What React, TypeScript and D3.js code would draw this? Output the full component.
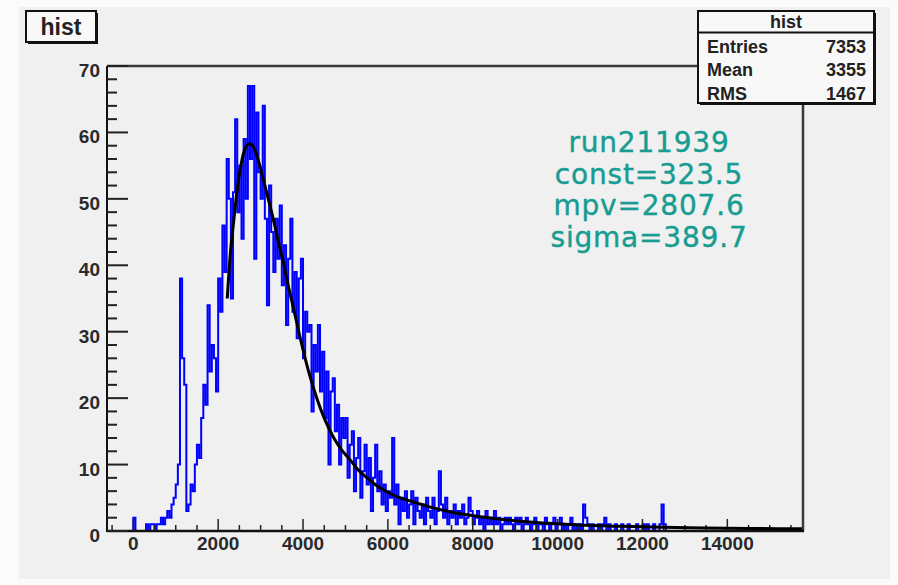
import React from 'react';
import * as d3 from 'd3';

const BIN_WIDTH = 50;
const counts: number[] = [
  // 0 - 950
  2, 0, 0, 0, 0, 0, 1, 0, 1, 1, 0, 1, 1, 2, 1, 2, 3, 2, 4, 5,
  // 1000 - 1950
  7, 10, 38, 26, 22, 3, 4, 7, 6, 10, 13, 11, 17, 22, 19, 34, 24, 28, 26, 21,
  // 2000 - 2950
  38, 33, 46, 39, 56, 50, 35, 51, 62, 48, 55, 44, 59, 50, 67, 56, 67, 41, 63, 54,
  // 3000 - 3950
  50, 64, 47, 34, 52, 45, 39, 47, 41, 49, 37, 43, 31, 41, 47, 33, 39, 29, 38, 41,
  // 4000 - 4950
  26, 33, 30, 31, 18, 28, 24, 31, 21, 27, 17, 24, 10, 21, 23, 15, 19, 10, 17, 14,
  // 5000 - 5950
  17, 8, 13, 15, 6, 11, 14, 5, 9, 13, 7, 11, 3, 8, 13, 6, 9, 4, 7, 3,
  // 6000 - 6950
  6, 5, 14, 4, 7, 1, 5, 3, 6, 2, 4, 6, 1, 5, 3, 2, 4, 1, 5, 3,
  // 7000 - 7950
  2, 5, 1, 3, 9, 4, 2, 5, 1, 3, 2, 4, 1, 3, 2, 4, 1, 2, 5, 3,
  // 8000 - 8950
  1, 2, 3, 1, 2, 0, 3, 1, 2, 1, 3, 1, 2, 0, 1, 2, 1, 2, 1, 0,
  // 9000 - 9950
  2, 1, 2, 0, 1, 2, 1, 0, 1, 2, 0, 1, 1, 0, 2, 1, 0, 1, 2, 0,
  // 10000 - 10950
  1, 2, 0, 1, 0, 1, 2, 0, 1, 0, 1, 0, 4, 2, 1, 0, 1, 0, 0, 1,
  // 11000 - 11950
  0, 1, 2, 0, 1, 0, 0, 1, 0, 0, 1, 0, 0, 1, 0, 0, 0, 1, 0, 0,
  // 12000 - 12950
  1, 0, 1, 0, 0, 1, 0, 0, 1, 4, 1, 0, 0, 0, 0, 0, 0, 0, 0, 0,
  // 13000 - 13950
  0, 0, 0, 0, 0, 0, 0, 0, 0, 0, 0, 0, 0, 0, 0, 0, 0, 0, 0, 0,
  // 14000 - 14950
  0, 0, 0, 0, 0, 0, 0, 0, 0, 0, 0, 0, 0, 0, 0, 0, 0, 0, 0, 0,
  // 15000 - 15700
  0, 0, 0, 0, 0, 0, 0, 0, 0, 0, 0, 0, 0, 0, 0,
];

const fitX: number[] = [
  2214, 2290, 2356, 2440, 2521, 2620, 2740, 2850, 2960, 3062, 3180, 3298, 3420,
  3534, 3650, 3777, 3900, 4050, 4200, 4334, 4500, 4710, 4900, 5112, 5300, 5512,
  5700, 5889, 6200, 6690, 7000, 7468, 8245, 9423, 10500, 11500, 12500, 13500,
  14500, 15760,
];
const fitY: number[] = [
  35, 42, 46, 51, 54.5, 57.3, 58.3, 57.6, 55.5, 53, 50, 47, 43.5,
  40.5, 37, 33.5, 30, 26, 22.5, 19.8, 17, 14.2, 12.3, 10.7, 9.2, 8,
  7, 6.2, 5.2, 4.2, 3.6, 2.9, 2.1, 1.3, 0.9, 0.7, 0.55, 0.45,
  0.38, 0.32,
];

const xMajorTicks = [0, 2000, 4000, 6000, 8000, 10000, 12000, 14000];
const yMajorTicks = [0, 10, 20, 30, 40, 50, 60, 70];
const statsLabels = ['Entries', 'Mean', 'RMS'];
const statsValues = ['7353', '3355', '1467'];
const fitText = ['run211939', 'const=323.5', 'mpv=2807.6', 'sigma=389.7'];

export default function App() {
  const W = 898;
  const H = 585;
  const left = 107, right = 802, top = 66, bottom = 531;
  const x = d3.scaleLinear().domain([-620, 15760]).range([left, right]);
  const y = d3.scaleLinear().domain([0, 70]).range([bottom, top]);

  const pts: [number, number][] = counts.map((c, i) => [i * BIN_WIDTH, c]);
  pts.push([counts.length * BIN_WIDTH, counts[counts.length - 1]]);
  const histLine = d3
    .line<[number, number]>()
    .x((d) => x(d[0]))
    .y((d) => y(d[1]))
    .curve(d3.curveStepAfter);
  const histPath = `M${x(0)},${y(0)}L` + (histLine(pts) || '').slice(1);

  const fitPts: [number, number][] = fitX.map((v, i) => [v, fitY[i]]);
  const fitLine = d3
    .line<[number, number]>()
    .x((d) => x(d[0]))
    .y((d) => y(d[1]))
    .curve(d3.curveMonotoneX);

  const xMinor = d3.range(-500, 15760, 500).filter((v) => v % 2000 !== 0);
  const yMinor = d3.range(0, 71, 2).filter((v) => v % 10 !== 0);

  const axisFont = "'Liberation Sans', Arial, sans-serif";

  return (
    <svg
      width={W}
      height={H}
      style={{ position: 'absolute', left: 0, top: 0, background: '#fbfbfb' }}
    >
      <rect x={19} y={7} width={871} height={572} fill="#f0f0f0" />

      {/* frame top/right */}
      <line x1={left} x2={right + 2} y1={top} y2={top} stroke="#3a3a3a" strokeWidth={2.5} />
      <line x1={right + 1} x2={right + 1} y1={top} y2={bottom} stroke="#3a3a3a" strokeWidth={2.5} />

      {/* histogram */}
      <path d={histPath} fill="none" stroke="#0000ff" strokeWidth={2} strokeLinejoin="miter" />

      {/* axes */}
      <line x1={left} x2={left} y1={top} y2={bottom + 1} stroke="#111" strokeWidth={2} />
      <line x1={left} x2={right + 2} y1={bottom} y2={bottom} stroke="#111" strokeWidth={2.5} />

      {/* x ticks */}
      {xMajorTicks.map((v) => (
        <line key={'xM' + v} x1={x(v)} x2={x(v)} y1={bottom} y2={bottom - 12} stroke="#222" strokeWidth={1.5} />
      ))}
      {xMinor.map((v) => (
        <line key={'xm' + v} x1={x(v)} x2={x(v)} y1={bottom} y2={bottom - 6} stroke="#222" strokeWidth={1.5} />
      ))}
      {/* y ticks */}
      {yMajorTicks.map((v) => (
        <line key={'yM' + v} x1={left} x2={left + 21} y1={y(v)} y2={y(v)} stroke="#222" strokeWidth={2} />
      ))}
      {yMinor.map((v) => (
        <line key={'ym' + v} x1={left} x2={left + 10} y1={y(v)} y2={y(v)} stroke="#222" strokeWidth={2} />
      ))}

      {/* fit */}
      <path d={fitLine(fitPts) || ''} fill="none" stroke="#000" strokeWidth={3} />

      {/* tick labels */}
      {xMajorTicks.map((v) => (
        <text
          key={'xl' + v}
          x={x(v)}
          y={550}
          textAnchor="middle"
          fontFamily={axisFont}
          fontWeight="bold"
          fontSize={19}
          fill="#2a2a2a"
        >
          {v}
        </text>
      ))}
      {yMajorTicks.map((v) => (
        <text
          key={'yl' + v}
          x={100}
          y={y(v) + 11}
          textAnchor="end"
          fontFamily={axisFont}
          fontWeight="bold"
          fontSize={19}
          fill="#2a2a2a"
        >
          {v}
        </text>
      ))}

      {/* title box */}
      <rect x={28} y={13} width={70} height={31} fill="#111" />
      <rect x={26} y={11} width={70} height={31} fill="#f8f8f8" stroke="#111" strokeWidth={2} />
      <text x={61} y={34.5} textAnchor="middle" fontFamily={axisFont} fontWeight="bold" fontSize={23} fill="#222">
        hist
      </text>

      {/* stats box */}
      <rect x={700} y={13} width={176} height={92} fill="#111" />
      <rect x={698} y={11} width={176} height={92} fill="#f8f8f8" stroke="#111" strokeWidth={2} />
      <line x1={698} x2={874} y1={32.5} y2={32.5} stroke="#111" strokeWidth={2} />
      <text x={786} y={28} textAnchor="middle" fontFamily={axisFont} fontWeight="bold" fontSize={18} fill="#222">
        hist
      </text>
      {statsLabels.map((s, i) => (
        <text key={s} x={707} y={52.5 + i * 23.5} fontFamily={axisFont} fontWeight="bold" fontSize={18} fill="#222">
          {s}
        </text>
      ))}
      {statsValues.map((s, i) => (
        <text
          key={s + i}
          x={866}
          y={52.5 + i * 23.5}
          textAnchor="end"
          fontFamily={axisFont}
          fontWeight="bold"
          fontSize={18}
          fill="#222"
        >
          {s}
        </text>
      ))}

      {/* fit annotation */}
      {fitText.map((s, i) => (
        <text
          key={s}
          x={649}
          y={152 + i * 31.7}
          textAnchor="middle"
          fontFamily="'DejaVu Sans', Verdana, sans-serif"
          fontSize={28}
          letterSpacing={0.8}
          fill="#179c92"
          stroke="#179c92"
          strokeWidth={0.4}
        >
          {s}
        </text>
      ))}
    </svg>
  );
}
